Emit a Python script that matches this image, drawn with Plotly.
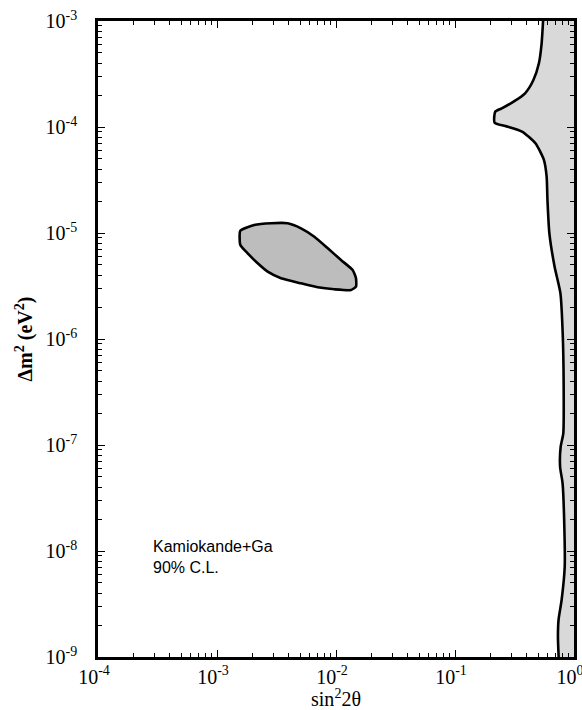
import plotly.graph_objects as go

# ---- data (log10 exponents) ----
# small allowed island (Kamiokande+Ga)
island_log_x = [-2.804, -2.687, -2.546, -2.406, -2.294, -2.182, -2.069, -1.958, -1.860,
                -1.832, -1.832, -1.874, -2.014, -2.154, -2.294, -2.462, -2.574, -2.658,
                -2.742, -2.804, -2.804]
island_log_y = [-4.978, -4.925, -4.908, -4.908, -4.956, -5.035, -5.144, -5.255, -5.349,
                -5.427, -5.506, -5.538, -5.531, -5.512, -5.475, -5.427, -5.365, -5.286,
                -5.192, -5.113, -4.978]

# boundary of the large-angle allowed region (right side)
right_log_x = [-0.260, -0.272, -0.295, -0.341, -0.411, -0.508, -0.607, -0.662, -0.667,
               -0.577, -0.437, -0.324, -0.253, -0.230, -0.223, -0.207, -0.163, -0.114,
               -0.095, -0.087, -0.090, -0.112, -0.117, -0.096, -0.080, -0.078, -0.104,
               -0.130, -0.135, -0.129]
right_log_y = [-3.000, -3.210, -3.399, -3.557, -3.682, -3.761, -3.824, -3.856, -3.959,
               -3.991, -4.044, -4.154, -4.311, -4.469, -4.689, -5.003, -5.318, -5.569,
               -5.947, -6.418, -6.890, -7.016, -7.205, -7.361, -7.833, -8.148, -8.462,
               -8.651, -8.808, -9.000]

x_tick_exp = [-4, -3, -2, -1, 0]
y_tick_exp = [-9, -8, -7, -6, -5, -4, -3]
x_tick_text = ["10<sup>-4</sup>", "10<sup>-3</sup>", "10<sup>-2</sup>", "10<sup>-1</sup>", "10<sup>0</sup>"]
y_tick_text = ["10<sup>-9</sup>", "10<sup>-8</sup>", "10<sup>-7</sup>", "10<sup>-6</sup>",
               "10<sup>-5</sup>", "10<sup>-4</sup>", "10<sup>-3</sup>"]

label_lines = ["Kamiokande+Ga", "90% C.L."]

# ---- build figure ----
isl_x = [10 ** v for v in island_log_x]
isl_y = [10 ** v for v in island_log_y]
bx = [10 ** v for v in right_log_x]
by = [10 ** v for v in right_log_y]
rx = bx + [1.0, 1.0, bx[0]]
ry = by + [by[-1], by[0], by[0]]

fig = go.Figure()
fig.add_trace(go.Scatter(x=rx, y=ry, mode="lines", fill="toself",
                         fillcolor="#d9d9d9", line=dict(color="rgba(0,0,0,0)", width=0),
                         hoverinfo="skip", showlegend=False))
fig.add_trace(go.Scatter(x=bx, y=by, mode="lines",
                         line=dict(color="black", width=2.6, shape="spline", smoothing=0.6),
                         hoverinfo="skip", showlegend=False))
fig.add_trace(go.Scatter(x=isl_x, y=isl_y, mode="lines", fill="toself",
                         fillcolor="#bdbdbd",
                         line=dict(color="black", width=2.6, shape="spline", smoothing=0.5),
                         hoverinfo="skip", showlegend=False))

minor_x = [m * 10 ** e for e in x_tick_exp[:-1] for m in range(2, 10)]
minor_y = [m * 10 ** e for e in y_tick_exp[:-1] for m in range(2, 10)]

serif = "Liberation Serif, Times New Roman, serif"
axis_common = dict(type="log", showgrid=False, zeroline=False, showline=True,
                   linecolor="black", linewidth=2.6, mirror="ticks",
                   ticks="inside", ticklen=7, tickwidth=1.3, tickcolor="black",
                   ticklabeloverflow="allow", automargin=False,
                   tickfont=dict(family=serif, size=20, color="black"))

fig.update_xaxes(range=[-4, 0], tickmode="array",
                 tickvals=[10 ** e for e in x_tick_exp], ticktext=x_tick_text,
                 ticklabelshift=-4,
                 minor=dict(tickmode="array", tickvals=minor_x, ticks="inside",
                            ticklen=4, tickwidth=1, tickcolor="black"),
                 title=dict(text="sin<sup>2</sup>2θ", font=dict(family=serif, size=20, color="black"),
                            standoff=0),
                 **axis_common)
fig.update_yaxes(range=[-9, -3], tickmode="array",
                 tickvals=[10 ** e for e in y_tick_exp], ticktext=y_tick_text,
                 minor=dict(tickmode="array", tickvals=minor_y, ticks="inside",
                            ticklen=4, tickwidth=1, tickcolor="black"),
                 ticklabelstandoff=14,
                 title=dict(text="<b>Δm<sup>2</sup> (eV<sup>2</sup>)</b>",
                            font=dict(family=serif, size=20, color="black"), standoff=8),
                 **axis_common)

fig.add_annotation(x=-3.555, y=-7.86, xref="x", yref="y", text="<br>".join(label_lines),
                   showarrow=False, xanchor="left", yanchor="top", align="left",
                   font=dict(family="Liberation Sans, Arial, sans-serif", size=16, color="black"))

fig.update_layout(width=582, height=710, margin=dict(l=98, r=8, t=21, b=53),
                  paper_bgcolor="white", plot_bgcolor="white", showlegend=False)

fig.write_html("out.html")
